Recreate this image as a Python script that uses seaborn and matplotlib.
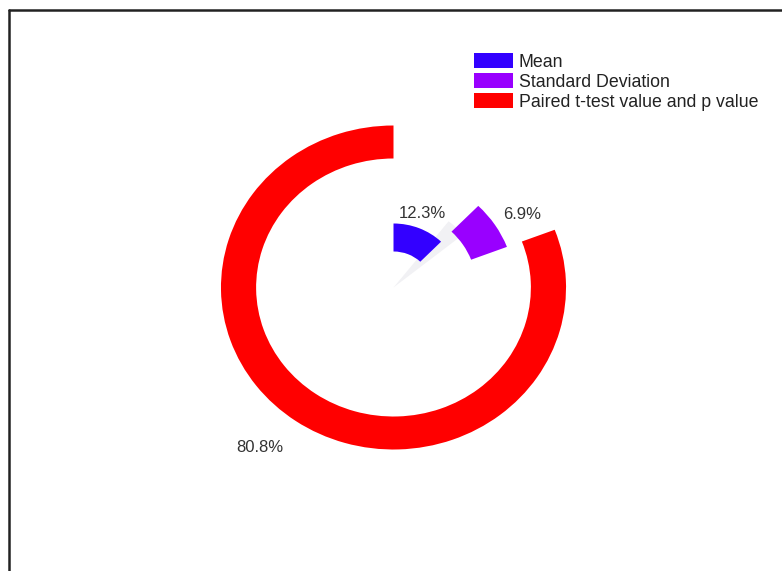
import numpy as np
import matplotlib
matplotlib.use("Agg")
import matplotlib.pyplot as plt
from matplotlib.patches import Patch
from matplotlib.lines import Line2D
import seaborn as sns

# ---- data ----
categories = ["Mean", "Standard Deviation", "Paired t-test value and p value"]
percentages = [12.3, 6.9, 80.8]
value_labels = ["12.3%", "6.9%", "80.8%"]

# ---- style ----
sns.set_theme(style="white")
plt.rcParams["font.family"] = ["Liberation Sans", "DejaVu Sans"]
palette = sns.color_palette(["#3300ff", "#9900ff", "#ff0000"])
inner_r = [36, 78, 129]
outer_r = [64, 114, 162]
label_r = [79, 141, 203]
label_shift_deg = [-2, 2, 3.5]

W, H = 782, 571
fig = plt.figure(figsize=(W / 100, H / 100), dpi=100)
fig.patch.set_facecolor("white")

cx, cy = 393.5, 287.5   # centre in pixels
R = 170                 # radial limit (vertical pixels)
sx = 1.065              # horizontal stretch of the reference
ax = fig.add_axes([(cx - R * sx) / W, (H - cy - R) / H, 2 * R * sx / W, 2 * R / H],
                  projection="polar")
ax.set_aspect("auto")
ax.set_theta_zero_location("N")
ax.set_theta_direction(-1)

fracs = np.array(percentages) / sum(percentages)
widths = fracs * 2 * np.pi
starts = np.concatenate([[0], np.cumsum(widths)[:-1]])

# faint shadow wedge between the small sectors
ax.bar(np.deg2rad(38), 84, width=np.deg2rad(13), bottom=0, align="edge",
       color="#f1f1f4", edgecolor="none", zorder=1)

ax.bar(starts, np.array(outer_r) - np.array(inner_r), width=widths,
       bottom=inner_r, align="edge", color=palette, edgecolor="none", zorder=2)

mids = starts + widths / 2 + np.deg2rad(label_shift_deg)
for m, r, t in zip(mids, label_r, value_labels):
    ax.text(m, r, t, ha="center", va="center", fontsize=12, color="#333333")

ax.set_ylim(0, R)
ax.set_axis_off()

handles = [Patch(facecolor=c, edgecolor="none", label=l) for c, l in zip(palette, categories)]
fig.legend(handles=handles, loc="upper left", bbox_to_anchor=(474 / W, 1 - 53 / H),
           frameon=False, fontsize=12.8, handlelength=2.2, handleheight=0.95,
           handletextpad=0.33, labelspacing=0.12, borderpad=0, borderaxespad=0,
           labelcolor="#222222")

# frame lines (top and left, as in the reference crop)
fig.add_artist(Line2D([8.5 / W, 8.5 / W], [0, 1 - 10.3 / H], transform=fig.transFigure,
                      color="#222222", lw=1.8))
fig.add_artist(Line2D([8.5 / W, 1], [1 - 10.3 / H, 1 - 10.3 / H], transform=fig.transFigure,
                      color="#222222", lw=1.8))

fig.savefig("out.png", dpi=100)
